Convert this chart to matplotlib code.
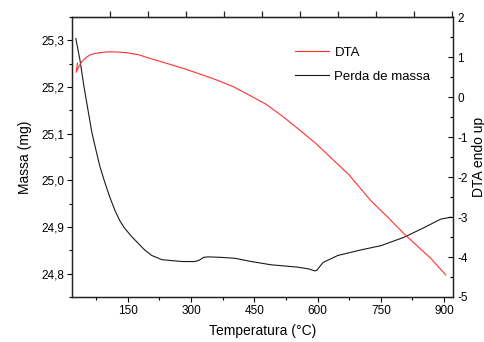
import numpy as np
import matplotlib
matplotlib.use("Agg")
import matplotlib.pyplot as plt
from matplotlib.ticker import MultipleLocator, FuncFormatter

matplotlib.rcParams.update({"font.family": ["Liberation Sans", "DejaVu Sans"],
                            "font.size": 8, "axes.unicode_minus": False})

# mass loss (left axis, mg)
mass_T = [27, 37, 46, 56, 65, 75, 84, 96, 108, 120, 131, 143, 160, 176, 190,
          207, 231, 254, 280, 309, 320, 330, 341, 370, 404, 443, 490, 553, 580,
          593, 598, 613, 648, 703, 750, 805, 853, 892, 916]
mass_mg = [25.304, 25.257, 25.203, 25.150, 25.103, 25.064, 25.030, 24.995, 24.963,
           24.935, 24.914, 24.897, 24.879, 24.864, 24.851,
           24.839, 24.830, 24.828, 24.826, 24.826, 24.829, 24.835, 24.836, 24.835,
           24.833, 24.826, 24.819, 24.814, 24.810,
           24.806, 24.807, 24.824, 24.839, 24.851, 24.860, 24.878, 24.899, 24.917,
           24.921]

# DTA signal (right axis)
dta_T = [31, 28, 33, 41, 50, 60, 72, 84, 100, 115, 130, 147, 175, 202, 240, 281,
         320, 360, 400, 438, 478, 517, 557, 596, 635, 675, 727, 766, 805, 868, 904]
dta_v = [0.85, 0.62, 0.74, 0.88, 0.98, 1.05, 1.09, 1.11, 1.13, 1.13, 1.125, 1.11,
         1.06, 0.97, 0.85, 0.72, 0.58, 0.43, 0.26, 0.05, -0.18, -0.48, -0.82,
         -1.16, -1.55, -1.95, -2.6, -3.0, -3.42, -4.03, -4.45]

top_ticks = [108 + 90 * k for k in range(10)]

fig = plt.figure(figsize=(4.85, 3.42), dpi=100)
ax = fig.add_axes([0.1485, 0.1316, 0.7855, 0.8184])
ax2 = ax.twinx()

l_mass, = ax.plot(mass_T, mass_mg, color="#1a1a1a", lw=0.8, label="Perda de massa")
l_dta, = ax2.plot(dta_T, dta_v, color="#ff3030", lw=0.8, label="DTA")

ax.set_xlim(18, 921)
ax.set_ylim(24.75, 25.35)
ax2.set_ylim(-5, 2)

ax.xaxis.set_major_locator(MultipleLocator(150))
ax.xaxis.set_minor_locator(MultipleLocator(75))
ax.yaxis.set_major_locator(MultipleLocator(0.1))
ax.yaxis.set_minor_locator(MultipleLocator(0.05))
ax.yaxis.set_major_formatter(FuncFormatter(lambda v, p: f"{v:.1f}".replace(".", ",")))
ax2.yaxis.set_major_locator(MultipleLocator(1))
ax2.yaxis.set_minor_locator(MultipleLocator(0.5))

ax.tick_params(which="both", direction="out", width=0.8, labelsize=8.5, pad=2)
ax.tick_params(which="major", length=3.5)
ax.tick_params(which="minor", length=2.5)
ax2.tick_params(which="both", direction="in", width=0.8, labelsize=8.5, pad=3)
ax2.tick_params(which="major", length=3.5)
ax2.tick_params(which="minor", length=2.5)

sec = ax.secondary_xaxis("top")
sec.set_xticks(top_ticks)
sec.set_xticklabels([])
sec.tick_params(direction="out", length=4, width=0.9, color="#222222")

for a in (ax, ax2):
    for s in a.spines.values():
        s.set_linewidth(0.9)
        s.set_color("#222222")

ax.set_xlabel("Temperatura (°C)", fontsize=10, labelpad=5)
ax.set_ylabel("Massa (mg)", fontsize=10, labelpad=7)
ax2.set_ylabel("DTA endo up", fontsize=10, labelpad=3)

ax2.legend([l_dta, l_mass], ["DTA", "Perda de massa"], loc="upper left",
           bbox_to_anchor=(0.585, 0.895), frameon=False, fontsize=9.5,
           handlelength=2.6, handletextpad=0.4, labelspacing=0.9,
           borderaxespad=0, borderpad=0)

fig.savefig("out.png", dpi=100, facecolor="white")
